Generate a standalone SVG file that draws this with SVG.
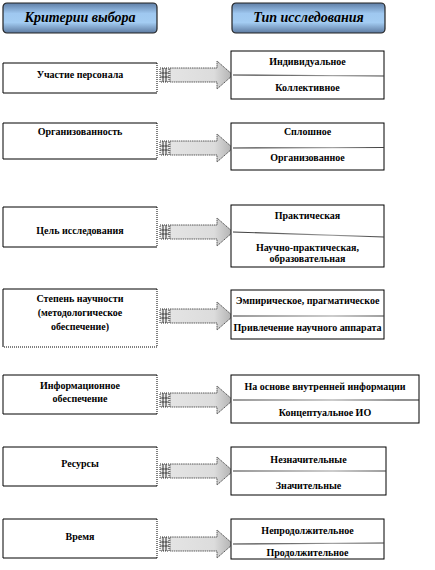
<svg xmlns="http://www.w3.org/2000/svg" xmlns:xlink="http://www.w3.org/1999/xlink" width="435" height="570" viewBox="0 0 435 570">
<style>
.hdr{fill:url(#hg);stroke:#222;stroke-width:1.2}
.hdrt{font-family:"Liberation Serif","Times New Roman",serif;font-size:14px;font-weight:bold;font-style:italic;fill:#000;text-anchor:middle}
.lb{fill:#fff;stroke:#000;stroke-width:1}
.dot{stroke:#000;stroke-width:1;stroke-dasharray:1 1;fill:none}
.rb{fill:#fff;stroke:#000;stroke-width:1}
.t{font-family:"Liberation Serif","Times New Roman",serif;font-size:10px;font-weight:bold;fill:#000;text-anchor:middle}
.div{stroke:url(#dg);stroke-width:1.2;fill:none}
</style>
<defs>
<linearGradient id="hg" x1="0" y1="0" x2="0" y2="1">
<stop offset="0" stop-color="#5f7ea6"/>
<stop offset="0.35" stop-color="#9fc8f0"/>
<stop offset="0.65" stop-color="#a3ccf2"/>
<stop offset="1" stop-color="#5d7aa0"/>
</linearGradient>
<linearGradient id="ag" x1="0" y1="0" x2="1" y2="0">
<stop offset="0" stop-color="#e4e4e4"/>
<stop offset="0.7" stop-color="#dcdcdc"/>
<stop offset="1" stop-color="#b0b0b0"/>
</linearGradient>
<linearGradient id="dg" gradientUnits="userSpaceOnUse" x1="231" y1="0" x2="400" y2="0">
<stop offset="0" stop-color="#333"/>
<stop offset="0.6" stop-color="#999"/>
<stop offset="1" stop-color="#222"/>
</linearGradient>
<g id="arr">
<rect x="160" y="-7" width="9" height="14" fill="#eee" stroke="#000" stroke-width="0.8" stroke-dasharray="1 1"/>
<line x1="163" y1="-7" x2="163" y2="7" stroke="#000" stroke-width="0.8"/>
<line x1="166" y1="-7" x2="166" y2="7" stroke="#000" stroke-width="0.8"/>
<line x1="160" y1="-2" x2="169" y2="-2" stroke="#000" stroke-width="0.6"/>
<line x1="160" y1="2" x2="169" y2="2" stroke="#000" stroke-width="0.6"/>
<path d="M170,-7 H217 V-14 L233,0 L217,14 V7 H170 Z" fill="url(#ag)" stroke="#333" stroke-width="0.8" stroke-dasharray="1.5 0.7"/>
</g>
</defs>
<rect width="435" height="570" fill="#fff"/>

<g id="header-left">
<rect class="hdr" x="3" y="3" width="154" height="30" rx="4"/>
<text class="hdrt" x="80" y="22">Критерии выбора</text>
</g>
<g id="header-right">
<rect class="hdr" x="232" y="3" width="153" height="30" rx="4"/>
<text class="hdrt" x="308.5" y="22">Тип исследования</text>
</g>

<g id="connectors">
<use xlink:href="#arr" transform="translate(0,75)"/>
<use xlink:href="#arr" transform="translate(0,148)"/>
<use xlink:href="#arr" transform="translate(0,232)"/>
<use xlink:href="#arr" transform="translate(0,316)"/>
<use xlink:href="#arr" transform="translate(0,400)"/>
<use xlink:href="#arr" transform="translate(0,471)"/>
<use xlink:href="#arr" transform="translate(0,544)"/>
</g>

<g id="crit-1">
<path class="lb" d="M157,93 H3 V63 H157"/>
<line class="dot" x1="157" y1="63" x2="157" y2="93"/>
<text class="t" x="80" y="78">Участие персонала</text>
</g>
<g id="crit-2">
<path class="lb" d="M157,159 H3 V123 H157"/>
<line class="dot" x1="157" y1="123" x2="157" y2="159"/>
<text class="t" x="80" y="135">Организованность</text>
</g>
<g id="crit-3">
<path class="lb" d="M157,247 H3 V207 H157"/>
<line class="dot" x1="157" y1="207" x2="157" y2="247"/>
<text class="t" x="80" y="234">Цель исследования</text>
</g>
<g id="crit-4">
<path class="lb" d="M3,347 V289 H157"/>
<path class="dot" d="M157,289 V347 H3"/>
<text class="t" x="80" y="302">Степень научности</text>
<text class="t" x="80" y="316">(методологическое</text>
<text class="t" x="80" y="330">обеспечение)</text>
</g>
<g id="crit-5">
<path class="lb" d="M157,414 H3 V375 H157"/>
<line class="dot" x1="157" y1="375" x2="157" y2="414"/>
<text class="t" x="80" y="389">Информационное</text>
<text class="t" x="80" y="402">обеспечение</text>
</g>
<g id="crit-6">
<path class="lb" d="M157,486 H3 V447 H157"/>
<line class="dot" x1="157" y1="447" x2="157" y2="486"/>
<text class="t" x="80" y="467">Ресурсы</text>
</g>
<g id="crit-7">
<path class="lb" d="M157,558 H3 V519 H157"/>
<line class="dot" x1="157" y1="519" x2="157" y2="558"/>
<text class="t" x="80" y="540">Время</text>
</g>

<g id="type-1">
<rect class="rb" x="231" y="51" width="153" height="48"/>
<line class="div" x1="233" y1="75" x2="384" y2="76"/>
<text class="t" x="307.5" y="64.5">Индивидуальное</text>
<text class="t" x="307.5" y="91">Коллективное</text>
</g>
<g id="type-2">
<rect class="rb" x="231" y="123" width="153" height="47"/>
<line class="div" x1="233" y1="148" x2="384" y2="147.5"/>
<text class="t" x="307.5" y="134.5">Сплошное</text>
<text class="t" x="307.5" y="160.5">Организованное</text>
</g>
<g id="type-3">
<rect class="rb" x="231" y="205" width="153" height="62"/>
<line class="div" x1="233" y1="232" x2="384" y2="237"/>
<text class="t" x="307.5" y="219">Практическая</text>
<text class="t" x="307.5" y="251">Научно-практическая,</text>
<text class="t" x="307.5" y="261.5">образовательная</text>
</g>
<g id="type-4">
<rect class="rb" x="231" y="290" width="153" height="49"/>
<line class="div" x1="233" y1="316" x2="384" y2="316"/>
<text class="t" x="307.5" y="304">Эмпирическое, прагматическое</text>
<text class="t" x="307.5" y="330.5">Привлечение научного аппарата</text>
</g>
<g id="type-5">
<rect class="rb" x="231" y="375" width="188" height="48"/>
<line class="div" x1="233" y1="400" x2="419" y2="400"/>
<text class="t" x="325" y="389.5">На основе внутренней информации</text>
<text class="t" x="325" y="416">Концептуальное ИО</text>
</g>
<g id="type-6">
<rect class="rb" x="231" y="447" width="155" height="48"/>
<line class="div" x1="233" y1="471" x2="386" y2="471"/>
<text class="t" x="308.5" y="462.5">Незначительные</text>
<text class="t" x="308.5" y="489">Значительные</text>
</g>
<g id="type-7">
<rect class="rb" x="231" y="519" width="153" height="40"/>
<line class="div" x1="233" y1="544" x2="384" y2="543"/>
<text class="t" x="307.5" y="533.5">Непродолжительное</text>
<text class="t" x="307.5" y="556">Продолжительное</text>
</g>
</svg>
